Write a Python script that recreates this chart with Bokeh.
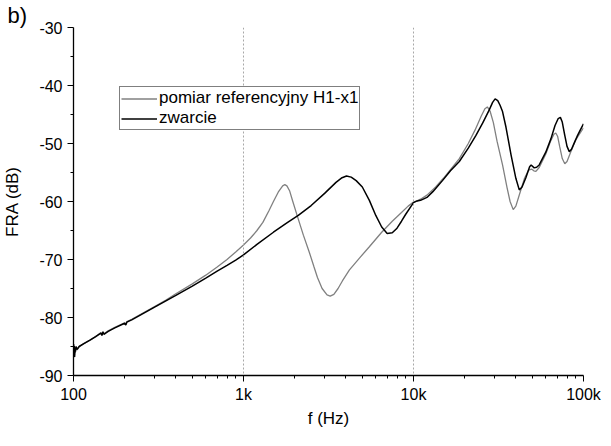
from bokeh.plotting import figure
from bokeh.models import (ColumnDataSource, Span, Legend, LegendItem,
                          FixedTicker)
from bokeh.embed import file_html
from bokeh.resources import INLINE

# ---------------- data ----------------
ref_f = [100, 100.5, 101, 101.5, 102, 102.5, 103.5, 105, 108, 115, 125, 135, 145, 147, 149, 151,
         160, 175, 200, 203, 206, 220, 250, 300, 350, 400, 500, 600, 700, 800, 900,
         1000, 1100, 1200, 1300, 1416, 1500, 1600, 1700, 1750, 1800, 1870, 1950, 2078,
         2250, 2435, 2600, 2723, 2900, 3100, 3236, 3400, 3600, 3816, 4200, 4795, 5500,
         6500, 7500, 8500, 9300, 10000, 10500, 11000, 12000, 13500, 15000, 16500, 18600,
         21000, 23000, 25000, 26300, 27200, 28200, 29500, 31000, 33400, 35500, 37000,
         38600, 40000, 42700, 45000, 47500, 49500, 51000, 52500, 55000, 60000, 64000,
         67000, 68700, 70500, 72500, 75000, 77600, 80000, 84000, 90000, 95000, 100000]
ref_db = [-85.2, -86.9, -84.6, -86.5, -85.0, -86.1, -85.1, -85.6, -85.0, -84.5, -83.9, -83.3, -82.6, -83.0, -82.4, -82.8,
          -82.3, -81.7, -80.9, -81.2, -80.7, -80.3, -79.4, -78.1, -77.0, -75.9, -74.2, -72.7, -71.3, -70.0, -68.7,
          -67.5, -66.3, -65.0, -63.6, -61.5, -60.0, -58.4, -57.3, -57.1, -57.3, -58.2, -60.0, -62.6,
          -65.8, -68.7, -71.3, -73.1, -75.0, -76.1, -76.3, -76.0, -75.0, -73.7, -71.8, -69.8, -67.8,
          -65.3, -63.4, -61.9, -60.8, -60.1, -59.9, -59.6, -58.9, -57.5, -56.0, -54.5, -52.6,
          -50.0, -47.7, -45.3, -44.0, -43.7, -44.4, -46.4, -49.6, -53.7, -57.6, -60.0,
          -61.4, -60.8, -58.1, -56.0, -54.6, -54.4, -54.7, -54.8, -54.1, -51.8, -49.6,
          -48.4, -48.2, -48.8, -50.6, -52.6, -53.5, -53.1, -51.5, -49.4, -48.3, -47.3]

sc_f = [100, 100.5, 101, 101.5, 102, 102.5, 103.5, 105, 108, 115, 125, 135, 145, 147, 149, 151,
        160, 175, 200, 203, 206, 220, 250, 300, 400, 500, 600, 700, 800, 900,
        1000, 1200, 1500, 1800, 2100, 2500, 3000, 3500, 3800, 4035, 4300, 4600, 5000,
        5500, 6000, 6500, 7000, 7500, 8000, 8500, 9000, 10000, 10500, 11000, 12000,
        13000, 14800, 16500, 18600, 21000, 23300, 25500, 27900, 29200, 30200, 31300,
        32300, 33400, 35000, 37500, 40000, 41900, 43500, 45800, 48200, 49200, 51300,
        53000, 54900, 60000, 64300, 68000, 71000, 73100, 75000, 77500, 80000, 82500,
        85000, 88500, 92300, 96000, 100000]
sc_db = [-85.6, -86.4, -84.9, -86.8, -85.3, -85.9, -85.0, -85.5, -85.0, -84.5, -83.9, -83.3, -82.7, -83.1, -82.5, -82.9,
         -82.4, -81.8, -81.0, -81.3, -80.8, -80.4, -79.5, -78.2, -76.2, -74.6, -73.2, -72.0, -71.0, -70.1,
         -69.2, -67.4, -65.3, -63.7, -62.4, -60.7, -58.6, -56.7, -55.9, -55.6, -55.8, -56.4, -57.5,
         -59.8, -62.4, -64.4, -65.5, -65.4, -64.6, -63.4, -62.2, -60.2, -59.9, -59.8, -59.3,
         -58.3, -56.4, -54.7, -53.1, -50.8, -48.6, -46.5, -44.2, -42.9, -42.3, -42.6,
         -43.4, -44.5, -47.2, -52.0, -56.0, -58.0, -57.5, -55.9, -54.0, -53.7, -54.2,
         -54.1, -53.7, -51.5, -49.2, -46.9, -45.7, -45.5, -46.3, -48.5, -50.5, -51.4,
         -51.0, -49.8, -48.6, -47.6, -46.6]

series_names = ["pomiar referencyjny H1-x1", "zwarcie"]
series_colors = ["#808080", "#000000"]

xtick_values = [100, 1000, 10000, 100000]
xtick_labels = ["100", "1k", "10k", "100k"]
xminor = [m * d for d in [100, 1000, 10000] for m in range(2, 10)]
ytick_values = [-90, -80, -70, -60, -50, -40, -30]
ytick_labels = ["-90", "-80", "-70", "-60", "-50", "-40", "-30"]
yminor = [-85, -75, -65, -55, -45, -35]
vlines = [1000, 10000]
panel_tag = "b)"

FONT = "Liberation Sans"

# ---------------- figure ----------------
p = figure(width=602, height=430, x_axis_type="log",
           x_range=(100, 100000), y_range=(-90, -30),
           output_backend="svg", toolbar_location=None,
           min_border_left=73, min_border_right=19,
           min_border_top=20, min_border_bottom=51)
p.outline_line_color = None
p.grid.visible = False
p.background_fill_color = "white"

# panel tag "b)" as title (annotations inside the frame are clipped)
p.title.text = panel_tag
p.title.text_font = FONT
p.title.text_font_size = "22px"
p.title.text_font_style = "normal"
p.title.text_color = "black"
p.title.align = "left"
p.title.offset = -66
p.title.standoff = 0

for loc in vlines:
    p.add_layout(Span(location=loc, dimension="height", line_color="#a8a8a8",
                      line_width=1, line_dash="2 2"))

src_ref = ColumnDataSource(dict(f=ref_f, db=ref_db))
src_sc = ColumnDataSource(dict(f=sc_f, db=sc_db))
r1 = p.line("f", "db", source=src_ref, line_color=series_colors[0], line_width=1.3)
r2 = p.line("f", "db", source=src_sc, line_color=series_colors[1], line_width=1.5)

# axes
xa = p.xaxis[0]
xa.ticker = FixedTicker(ticks=xtick_values, minor_ticks=xminor)
xa.major_label_overrides = {v: l for v, l in zip(xtick_values, xtick_labels)}
ya = p.yaxis[0]
ya.ticker = FixedTicker(ticks=ytick_values, minor_ticks=yminor)
ya.major_label_overrides = {v: l for v, l in zip(ytick_values, ytick_labels)}

for ax in (xa, ya):
    ax.axis_line_color = "black"
    ax.axis_line_width = 1.3
    ax.major_tick_line_color = "black"
    ax.minor_tick_line_color = "black"
    ax.major_tick_in = 0
    ax.major_tick_out = 6
    ax.minor_tick_in = 0
    ax.minor_tick_out = 3
    ax.major_label_text_font = FONT
    ax.major_label_text_font_size = "16px"
    ax.major_label_text_color = "black"
    ax.axis_label_text_font = FONT
    ax.axis_label_text_font_size = "17px"
    ax.axis_label_text_font_style = "normal"
    ax.axis_label_text_color = "black"

xa.axis_label = "f (Hz)"
xa.major_label_standoff = 4
xa.axis_label_standoff = 3
ya.axis_label = "FRA (dB)"
ya.major_label_standoff = 5
ya.axis_label_standoff = 14

legend = Legend(items=[LegendItem(label=series_names[0], renderers=[r1]),
                       LegendItem(label=series_names[1], renderers=[r2])],
                location=(46, 245))
legend.border_line_color = "black"
legend.border_line_width = 1
legend.background_fill_color = "white"
legend.background_fill_alpha = 1
legend.label_text_font = FONT
legend.label_text_font_size = "17px"
legend.label_text_color = "black"
legend.glyph_width = 36
legend.glyph_height = 19
legend.label_height = 19
legend.label_standoff = 2
legend.spacing = 0
legend.padding = 1
legend.margin = 0
p.add_layout(legend, "center")

open("out.html", "w").write(file_html(p, INLINE))
